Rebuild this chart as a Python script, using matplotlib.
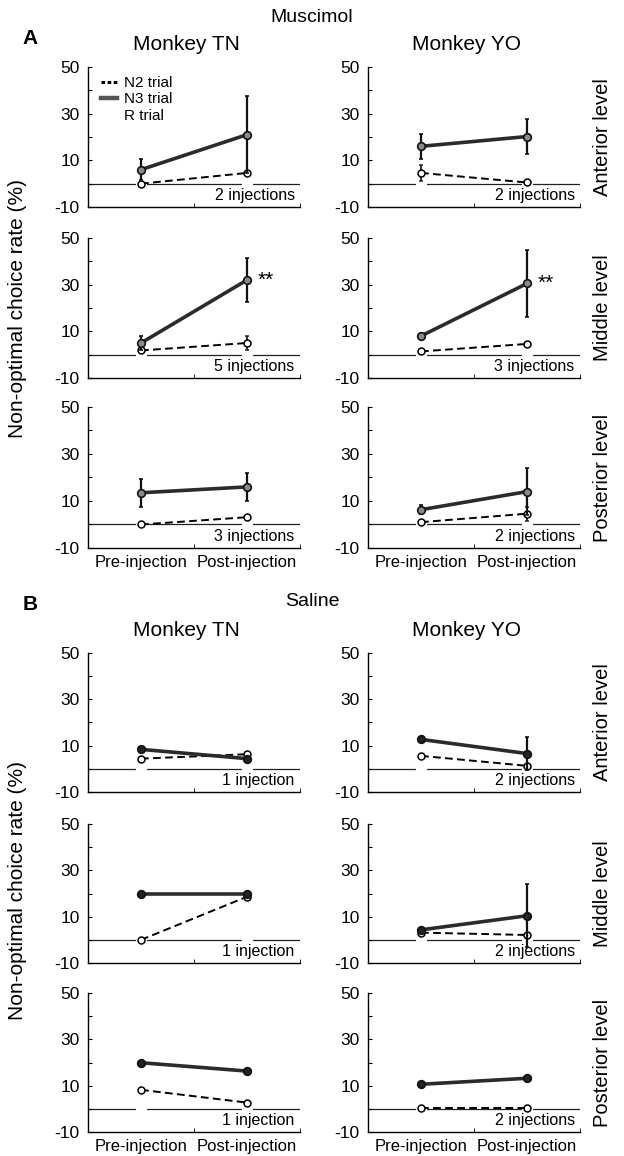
import numpy as np
import matplotlib.pyplot as plt
from matplotlib.lines import Line2D

plt.rcParams['font.family'] = ['Liberation Sans', 'DejaVu Sans']

# x positions: pre-injection, post-injection
phases = ['Pre-injection', 'Post-injection']
levels = ['Anterior level', 'Middle level', 'Posterior level']
monkeys = ['Monkey TN', 'Monkey YO']

# Muscimol, rows = anterior / middle / posterior, cols = pre / post
n3_mus_tn = [[6, 21], [5, 32], [13.5, 16]]
n3_mus_tn_err = [[4.5, 16.5], [3, 9.5], [6, 6]]
n2_mus_tn = [[0, 4.6], [1.8, 5], [0, 3.1]]
n2_mus_tn_err = [[0, 0], [0, 3], [0, 0]]
n3_mus_yo = [[16, 20.2], [8, 30.5], [6.3, 14]]
n3_mus_yo_err = [[5.3, 7.3], [0, 14.5], [2, 10]]
n2_mus_yo = [[4.6, 0.5], [1.4, 4.6], [1, 4.6]]
n2_mus_yo_err = [[3.3, 0], [1, 0.8], [0, 3]]

# Saline
n3_sal_tn = [[8.4, 4.4], [20, 20], [19.9, 16.3]]
n3_sal_tn_err = [[0, 0], [0, 0], [0, 0]]
n2_sal_tn = [[4.4, 6.3], [0, 18.6], [8.2, 2.7]]
n2_sal_tn_err = [[0, 0], [0, 0], [0, 0]]
n3_sal_yo = [[12.7, 6.6], [4.3, 10.4], [10.6, 13.2]]
n3_sal_yo_err = [[0, 7], [0, 13.5], [0, 0]]
n2_sal_yo = [[5.6, 1.3], [3.1, 2.1], [0.5, 0.5]]
n2_sal_yo_err = [[0, 0], [0, 0], [0, 0]]

# R trial stays at zero
r_trial = [0, 0]

inj_mus_tn = [2, 5, 3]
inj_mus_yo = [2, 3, 2]
inj_sal_tn = [1, 1, 1]
inj_sal_yo = [2, 2, 2]

signif_mus = [None, '**', None]

W, H = 624, 1156
fig = plt.figure(figsize=(W / 100, H / 100), dpi=100)

col_left = [88, 368]
col_w = 212
rows_A = [(67, 207), (238, 378), (407, 548)]
rows_B = [(653, 792), (824, 963), (993, 1132)]


def px_axes(left, top, width, bottom):
    return fig.add_axes([left / W, 1 - bottom / H, width / W, (bottom - top) / H])


def draw_panel(ax, n3, n3e, n2, n2e, ninj, n3_face, star=None, bottom=False):
    x = np.arange(2)
    ax.axhline(0, color='#222222', lw=0.9, zorder=1)
    ax.plot(x, r_trial, 'o', ms=7, mfc='white', mec='white', zorder=2)
    ax.errorbar(x, n2, yerr=n2e, color='black', lw=1.4, ls=(0, (4, 2.2)),
                marker='o', ms=5, mfc='white', mec='black', mew=1.1,
                ecolor='#222222', elinewidth=1.3, capsize=1.5, zorder=3)
    ax.errorbar(x, n3, yerr=n3e, color='#2b2b2b', lw=2.6,
                marker='o', ms=5.5, mfc=n3_face, mec='#111111', mew=1.2,
                ecolor='#111111', elinewidth=1.6, capsize=1.5, zorder=4)
    ax.set_xlim(-0.5, 1.5)
    ax.set_ylim(-10, 50)
    ax.set_yticks([-10, 0, 10, 20, 30, 40, 50])
    ax.set_yticklabels(['-10', '', '10', '', '30', '', '50'])
    ax.tick_params(axis='y', direction='in', length=3, labelsize=12.5, pad=6)
    ax.set_xticks([0, 1])
    ax.set_xticks([0.5, 1.5], minor=True)
    ax.tick_params(axis='x', which='minor', direction='in', length=3)
    ax.tick_params(axis='x', which='major', length=0, labelsize=12, pad=5)
    if bottom:
        ax.set_xticklabels(phases)
    else:
        ax.set_xticklabels(['', ''])
    for s in ['top', 'right']:
        ax.spines[s].set_visible(False)
    for s in ['left', 'bottom']:
        ax.spines[s].set_linewidth(1.0)
    word = 'injection' if ninj == 1 else 'injections'
    ax.text(1.45, -5, f'{ninj} {word}', ha='right', va='center', fontsize=11.5)
    if star:
        ax.text(1.1, n3[1], star, ha='left', va='center', fontsize=15)


def draw_block(rows, data, inj, faces, stars):
    axes = []
    for r, (top, bot) in enumerate(rows):
        for c in range(2):
            ax = px_axes(col_left[c], top, col_w, bot)
            n3, n3e, n2, n2e = data[c]
            draw_panel(ax, n3[r], n3e[r], n2[r], n2e[r], inj[c][r], faces,
                       star=stars[r], bottom=(r == 2))
            axes.append(ax)
        fig.text(603 / W, 1 - (top + bot) / 2 / H, levels[r], rotation=90,
                 ha='center', va='center', fontsize=14.5)
    return axes


axes_A = draw_block(rows_A,
                    [(n3_mus_tn, n3_mus_tn_err, n2_mus_tn, n2_mus_tn_err),
                     (n3_mus_yo, n3_mus_yo_err, n2_mus_yo, n2_mus_yo_err)],
                    [inj_mus_tn, inj_mus_yo], '#8a8a8a', signif_mus)
axes_B = draw_block(rows_B,
                    [(n3_sal_tn, n3_sal_tn_err, n2_sal_tn, n2_sal_tn_err),
                     (n3_sal_yo, n3_sal_yo_err, n2_sal_yo, n2_sal_yo_err)],
                    [inj_sal_tn, inj_sal_yo], '#222222', [None, None, None])

# legend in first panel
handles = [Line2D([], [], color='black', lw=2.2, ls=(0, (1.2, 0.8))),
           Line2D([], [], color='#555555', lw=3.2),
           Line2D([], [], color='white', lw=3)]
axes_A[0].legend(handles, ['N2 trial', 'N3 trial', 'R trial'], loc='upper left',
                 frameon=False, fontsize=11, handlelength=1.0, handletextpad=0.5,
                 labelspacing=0.15, borderaxespad=0.2, bbox_to_anchor=(0.02, 1.0))

# titles and labels
fig.text(312 / W, 1 - 18 / H, 'Muscimol', ha='center', va='center', fontsize=14)
fig.text(312 / W, 1 - 602 / H, 'Saline', ha='center', va='center', fontsize=14)
fig.text(30 / W, 1 - 38 / H, 'A', ha='center', va='center', fontsize=15, fontweight='bold')
fig.text(30 / W, 1 - 604 / H, 'B', ha='center', va='center', fontsize=15, fontweight='bold')
for ytop in [45, 630]:
    fig.text(186 / W, 1 - ytop / H, monkeys[0], ha='center', va='center', fontsize=15)
    fig.text(467 / W, 1 - ytop / H, monkeys[1], ha='center', va='center', fontsize=15)
for yc in [308, 890]:
    fig.text(18 / W, 1 - yc / H, 'Non-optimal choice rate (%)', rotation=90,
             ha='center', va='center', fontsize=15)

fig.savefig('out.png', dpi=100)
